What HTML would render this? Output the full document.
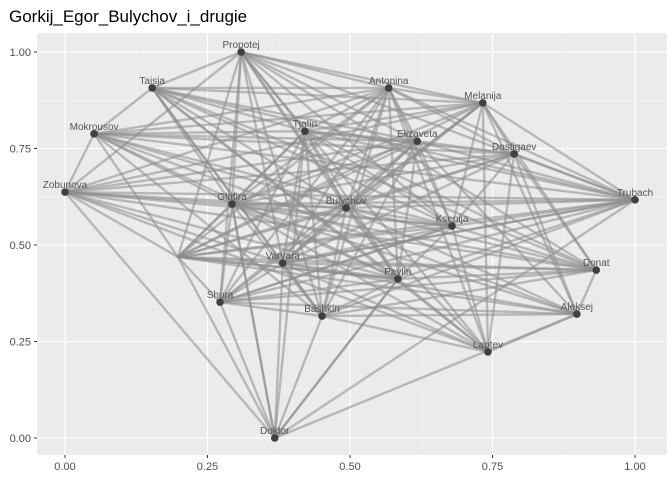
<!DOCTYPE html>
<html><head><meta charset="utf-8"><style>
body{margin:0;background:#fff;}
svg{display:block;font-family:"Liberation Sans",sans-serif;}
</style></head><body>
<svg id="chart" width="672" height="480">
<text x="9" y="22" font-size="17" fill="#000">Gorkij_Egor_Bulychov_i_drugie</text>
<rect x="37" y="33" width="630" height="422" fill="#ebebeb"/>
<g id="grid"></g><g id="edges"></g><g id="nodes"></g><g id="axes"></g>
</svg>
<script>
const nodeNames=["Propotej","Taisja","Mokrousov","Zobunova","Antonina","Melanija","Tjatin","Elizaveta","Dostigaev","Trubach","Glafira","Bulychov","Ksenija","","Varvara","Donat","Pavlin","Shura","Bashkin","Aleksej","Laptev","Doktor"];
const nodeX=[0.309,0.153,0.051,0.0,0.568,0.733,0.421,0.618,0.788,1.0,0.293,0.493,0.679,0.198,0.382,0.932,0.584,0.272,0.451,0.898,0.742,0.368];
const nodeY=[1.0,0.907,0.788,0.637,0.907,0.868,0.795,0.769,0.736,0.617,0.606,0.596,0.549,0.469,0.453,0.435,0.412,0.352,0.316,0.321,0.223,0.0];
const edgeFrom=[0,0,0,0,0,0,0,0,0,0,0,0,1,1,1,1,1,1,1,1,1,1,2,2,2,2,2,2,2,2,2,2,3,3,3,3,3,3,3,3,3,3,4,4,4,4,4,4,4,4,4,4,5,5,5,5,5,5,5,5,5,6,6,6,6,6,6,6,6,6,7,7,7,7,7,7,7,7,8,8,8,8,8,8,8,9,9,9,9,9,9,9,10,10,10,10,10,10,10,11,11,11,11,11,11,12,12,12,12,12,13,13,13,13,13,13,14,14,14,14,14,15,15,15,16,16,16,17,17,18,18,19,21,21,21,
0,0,0,0,0,1,1,1,1,2,2,2,2,3,3,3,3,4,4,4,4,5,5,5,6,6,6,6,7,7,7,8,8,9,9,9,10,10,10,11,11,12,12,13,14,14,15,16,17,19];
const edgeTo=[1,4,5,6,10,13,14,17,18,11,16,20,2,4,5,6,10,11,12,14,16,20,3,4,6,7,9,10,11,13,16,18,4,9,10,11,13,14,15,16,20,21,5,6,7,8,9,11,14,16,17,18,6,8,9,10,12,14,15,19,20,7,10,11,13,14,16,17,18,21,8,9,10,12,13,16,17,19,9,10,11,13,15,19,20,10,11,12,13,14,16,17,11,12,13,15,17,20,21,12,13,14,15,18,20,13,14,15,17,20,14,15,16,17,19,21,15,16,17,19,21,16,18,19,17,18,20,18,21,20,19,20,10,18,16,
7,9,12,3,15,7,9,15,18,5,8,12,19,5,7,8,12,10,12,13,20,11,13,17,8,9,12,15,11,14,18,12,14,14,18,21,16,18,19,16,19,16,17,16,20,18,17,21,19,21];
const xs=v=>65+v*570, ys=v=>438-v*386;
const NS="http://www.w3.org/2000/svg";
function mk(t,a,p){const e=document.createElementNS(NS,t);for(const k in a)e.setAttribute(k,a[k]);p.appendChild(e);return e;}
const grid=document.getElementById('grid');
const xt=[0,0.25,0.5,0.75,1],xl=["0.00","0.25","0.50","0.75","1.00"];
const yt=[0,0.25,0.5,0.75,1],yl=["0.00","0.25","0.50","0.75","1.00"];
[0.125,0.375,0.625,0.875].forEach(v=>{mk('line',{x1:xs(v),x2:xs(v),y1:33,y2:455,stroke:'#f5f5f5','stroke-width':0.6},grid);mk('line',{y1:ys(v),y2:ys(v),x1:37,x2:667,stroke:'#f5f5f5','stroke-width':0.6},grid);});
xt.forEach(v=>mk('line',{x1:xs(v),x2:xs(v),y1:33,y2:455,stroke:'#fff','stroke-width':1.1},grid));
yt.forEach(v=>mk('line',{y1:ys(v),y2:ys(v),x1:37,x2:667,stroke:'#fff','stroke-width':1.1},grid));
const ax=document.getElementById('axes');
xt.forEach((v,i)=>{mk('line',{x1:xs(v),x2:xs(v),y1:455,y2:458,stroke:'#333'},ax);const t=mk('text',{x:xs(v),y:470,'text-anchor':'middle','font-size':11,fill:'#4d4d4d'},ax);t.textContent=xl[i];

});
yt.forEach((v,i)=>{mk('line',{x1:34,x2:37,y1:ys(v),y2:ys(v),stroke:'#333'},ax);const t=mk('text',{x:31,y:ys(v)+4,'text-anchor':'end','font-size':11,fill:'#4d4d4d'},ax);t.textContent=yl[i];

});
const eg=document.getElementById('edges');
edgeFrom.forEach((a,i)=>{const b=edgeTo[i];if(a===b)return;const l=mk('line',{x1:xs(nodeX[a]),y1:ys(nodeY[a]),x2:xs(nodeX[b]),y2:ys(nodeY[b]),stroke:'rgba(140,140,140,0.55)','stroke-width':2.4},eg);

});
const ng=document.getElementById('nodes');
nodeNames.forEach((n,i)=>{if(!n)return;const c=mk('circle',{cx:xs(nodeX[i]),cy:ys(nodeY[i]),r:3.8,fill:'#404040'},ng);


const t=mk('text',{x:xs(nodeX[i]),y:ys(nodeY[i])-4,'text-anchor':'middle','font-size':10,fill:'#555'},ng);t.textContent=n;

});
</script>
</body></html>
